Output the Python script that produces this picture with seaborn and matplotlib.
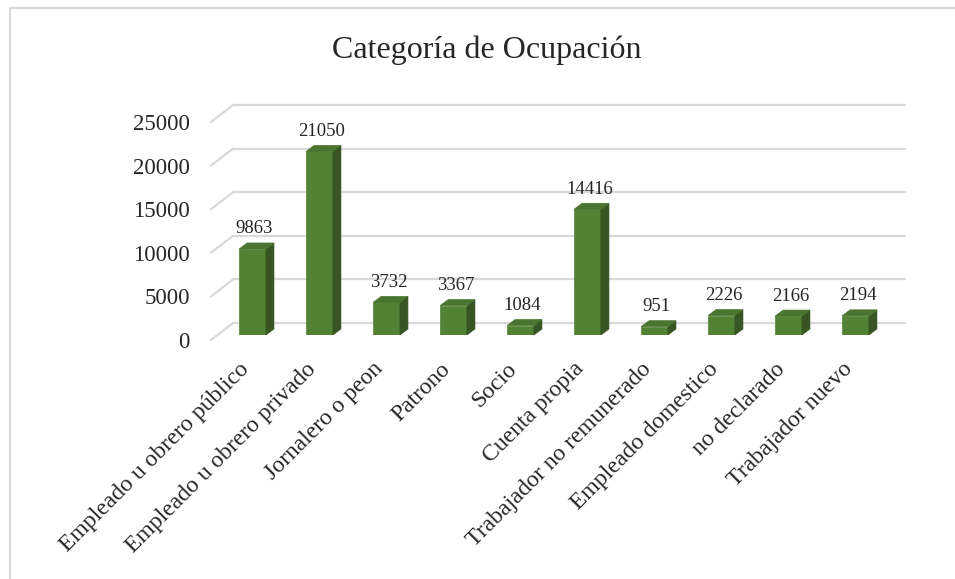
import numpy as np
import matplotlib
matplotlib.use("Agg")
import matplotlib.pyplot as plt
import matplotlib.transforms as mtransforms
from matplotlib.patches import Polygon, Rectangle
import seaborn as sns

# Data
categorias = ["Empleado u obrero público", "Empleado u obrero privado", "Jornalero o peon",
              "Patrono", "Socio", "Cuenta propia", "Trabajador no remunerado",
              "Empleado domestico", "no declarado", "Trabajador nuevo"]
valores = [9863, 21050, 3732, 3367, 1084, 14416, 951, 2226, 2166, 2194]
y_ticks = [0, 5000, 10000, 15000, 20000, 25000]
titulo = "Categoría de Ocupación"

sns.set_style("white")
plt.rcParams['font.family'] = ['Liberation Serif', 'DejaVu Serif']

verde = "#548235"
verde_lado = "#375623"
verde_tope = "#4a7530"
gris = "#d9d9d9"

fig = plt.figure(figsize=(9.55, 5.79), dpi=100)
ax = fig.add_axes([219 / 955, (579 - 335) / 579, (889 - 219) / 955, 218 / 579])

# 3D depth (in data units)
dx_bar, dy_bar = 0.12, 690
dx_back, dy_back = 0.24, 1376

# back gridlines with floor diagonals
for v in y_ticks:
    ax.plot([-0.29, 9.74], [v + dy_back, v + dy_back], color=gris, lw=1.6, clip_on=False, zorder=0)
    ax.plot([-0.62, -0.29], [v - 573, v + dy_back], color=gris, lw=1.6, clip_on=False, zorder=0)

sns.barplot(x=categorias, y=valores, color=verde, width=0.4, saturation=1, ax=ax, zorder=2,
            edgecolor=verde, linewidth=0.5)

for p in ax.patches:
    x0, w, h = p.get_x(), p.get_width(), p.get_height()
    x1 = x0 + w
    lado = Polygon([[x1, 0], [x1 + dx_bar, dy_bar], [x1 + dx_bar, h + dy_bar], [x1, h]],
                   closed=True, facecolor=verde_lado, edgecolor=verde_lado, lw=0.5, zorder=2)
    tope = Polygon([[x0, h], [x0 + dx_bar, h + dy_bar], [x1 + dx_bar, h + dy_bar], [x1, h]],
                   closed=True, facecolor=verde_tope, edgecolor=verde_tope, lw=0.5, zorder=2)
    ax.add_patch(lado)
    ax.add_patch(tope)
    ax.annotate(f"{int(h)}", (x0 + w / 2 + 0.03, h + dy_bar), xytext=(0, 4),
                textcoords="offset points", ha="center", va="bottom", fontsize=13.5)

ax.set_xlim(-0.5, 9.5)
ax.set_ylim(0, 25000)
ax.set_yticks(y_ticks)
ax.set_yticklabels([str(t) for t in y_ticks], fontsize=16.5)
ax.tick_params(axis='y', length=0, pad=21)
ax.tick_params(axis='x', length=0, pad=14)
ax.set_xticks(range(len(categorias)))
ax.set_xticklabels(categorias, rotation=45, ha="right", rotation_mode="anchor", fontsize=17)
ax.set_xlabel("")
ax.set_ylabel("")
for s in ax.spines.values():
    s.set_visible(False)
ax.set_facecolor("none")

off = mtransforms.ScaledTranslation(0, -5 / 100, fig.dpi_scale_trans)
for lab in ax.get_yticklabels():
    lab.set_transform(lab.get_transform() + off)
offx = mtransforms.ScaledTranslation(-14 / 100, -4 / 100, fig.dpi_scale_trans)
for lab in ax.get_xticklabels():
    lab.set_transform(lab.get_transform() + offx)

fig.text(487 / 955, 1 - 50 / 579, titulo, ha="center", va="center", fontsize=23)

# chart border
fig.patches.append(Rectangle((10 / 955, -0.05), 1.1, 1 - 8 / 579 + 0.05, transform=fig.transFigure,
                             fill=False, edgecolor=gris, lw=1.5))

fig.savefig("out.png", dpi=100)
